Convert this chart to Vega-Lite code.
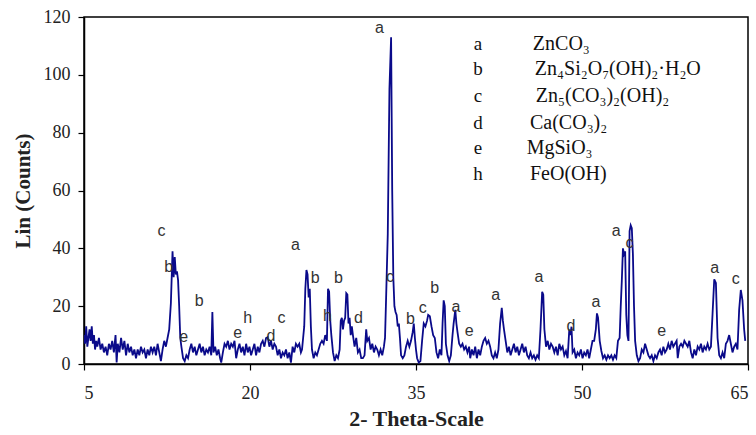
{
  "$schema": "https://vega.github.io/schema/vega-lite/v6.json",
  "autosize": "none",
  "width": 664,
  "height": 347,
  "padding": {"left": 84, "top": 17, "right": 8, "bottom": 71},
  "background": "white",
  "config": {
    "view": {"stroke": "#000", "strokeWidth": 1.5},
    "axis": {"grid": false, "domainColor": "#000", "domainWidth": 1.5, "tickColor": "#000", "tickWidth": 1.2, "tickSize": 6,
      "labelFont": "Liberation Serif", "labelFontSize": 18, "labelColor": "#222",
      "titleFont": "Liberation Serif", "titleFontSize": 21, "titleFontWeight": "bold", "titleColor": "#222"}
  },
  "datasets": {
    "spectrum": [
      {"x":5.0,"y":10},{"x":5.1,"y":7},{"x":5.2,"y":13},{"x":5.3,"y":6},{"x":5.4,"y":9},{"x":5.5,"y":12},{"x":5.6,"y":8},{"x":5.7,"y":13},{"x":5.8,"y":7},{"x":5.9,"y":10},
      {"x":6.0,"y":5},{"x":6.1,"y":8},{"x":6.2,"y":6},{"x":6.35,"y":9},{"x":6.5,"y":5},{"x":6.65,"y":7},{"x":6.8,"y":4},{"x":6.95,"y":6},{"x":7.1,"y":3},{"x":7.25,"y":7},
      {"x":7.4,"y":5},{"x":7.55,"y":8},{"x":7.7,"y":4},{"x":7.85,"y":10},{"x":7.95,"y":0.5},{"x":8.05,"y":7},{"x":8.2,"y":4},{"x":8.35,"y":9},{"x":8.5,"y":5},{"x":8.65,"y":8},
      {"x":8.8,"y":3},{"x":8.95,"y":7},{"x":9.1,"y":4},{"x":9.25,"y":6},{"x":9.4,"y":3},{"x":9.55,"y":5},{"x":9.7,"y":2},{"x":9.85,"y":5},{"x":10.0,"y":3},{"x":10.15,"y":6},
      {"x":10.3,"y":4},{"x":10.45,"y":5},{"x":10.6,"y":2},{"x":10.75,"y":5},{"x":10.9,"y":3},{"x":11.05,"y":6},{"x":11.2,"y":4},{"x":11.35,"y":6},{"x":11.5,"y":3},{"x":11.65,"y":7},
      {"x":11.8,"y":4},{"x":11.95,"y":1},{"x":12.1,"y":5},{"x":12.25,"y":8},{"x":12.4,"y":6},{"x":12.55,"y":9},{"x":12.7,"y":12},{"x":12.85,"y":21},{"x":13.0,"y":39},{"x":13.1,"y":30},
      {"x":13.2,"y":37},{"x":13.3,"y":31},{"x":13.4,"y":32},{"x":13.5,"y":29},{"x":13.6,"y":20},{"x":13.7,"y":9},{"x":13.8,"y":6},{"x":13.95,"y":2},{"x":14.1,"y":1},{"x":14.25,"y":3},
      {"x":14.4,"y":2},{"x":14.55,"y":5},{"x":14.7,"y":7},{"x":14.85,"y":4},{"x":15.0,"y":6},{"x":15.15,"y":3},{"x":15.3,"y":5},{"x":15.45,"y":7},{"x":15.6,"y":4},{"x":15.75,"y":6},
      {"x":15.9,"y":3},{"x":16.05,"y":5},{"x":16.2,"y":4},{"x":16.35,"y":6},{"x":16.5,"y":3},{"x":16.6,"y":18},{"x":16.7,"y":4},{"x":16.85,"y":6},{"x":17.0,"y":3},{"x":17.15,"y":5},
      {"x":17.3,"y":2},{"x":17.4,"y":0.5},{"x":17.55,"y":4},{"x":17.7,"y":7},{"x":17.85,"y":6},{"x":18.0,"y":8},{"x":18.15,"y":5},{"x":18.3,"y":7},{"x":18.45,"y":6},{"x":18.6,"y":8},
      {"x":18.75,"y":2},{"x":18.9,"y":5},{"x":19.05,"y":7},{"x":19.2,"y":4},{"x":19.35,"y":6},{"x":19.5,"y":3},{"x":19.65,"y":7},{"x":19.8,"y":4},{"x":19.95,"y":6},{"x":20.1,"y":3},
      {"x":20.25,"y":5},{"x":20.4,"y":7},{"x":20.55,"y":3},{"x":20.7,"y":6},{"x":20.85,"y":4},{"x":21.0,"y":7},{"x":21.15,"y":8},{"x":21.3,"y":6},{"x":21.45,"y":9},{"x":21.6,"y":9.3},
      {"x":21.75,"y":6},{"x":21.9,"y":8},{"x":22.05,"y":5},{"x":22.2,"y":7},{"x":22.35,"y":6},{"x":22.5,"y":3},{"x":22.65,"y":5},{"x":22.8,"y":2},{"x":22.95,"y":4},{"x":23.1,"y":3},
      {"x":23.25,"y":5},{"x":23.4,"y":2},{"x":23.55,"y":4},{"x":23.7,"y":0.5},{"x":23.85,"y":6},{"x":24.0,"y":4},{"x":24.15,"y":7},{"x":24.3,"y":6},{"x":24.45,"y":7},{"x":24.6,"y":4},
      {"x":24.7,"y":5},{"x":24.8,"y":9},{"x":24.9,"y":13},{"x":25.0,"y":26},{"x":25.1,"y":32.5},{"x":25.2,"y":31},{"x":25.3,"y":23},{"x":25.4,"y":26},{"x":25.5,"y":13},{"x":25.6,"y":5},
      {"x":25.75,"y":2},{"x":25.9,"y":4},{"x":26.05,"y":3},{"x":26.2,"y":5},{"x":26.35,"y":7},{"x":26.5,"y":8},{"x":26.65,"y":7},{"x":26.8,"y":10},{"x":26.95,"y":8},{"x":27.05,"y":26},
      {"x":27.15,"y":25},{"x":27.25,"y":15},{"x":27.35,"y":10},{"x":27.5,"y":4},{"x":27.65,"y":1},{"x":27.8,"y":3},{"x":27.95,"y":2},{"x":28.1,"y":5},{"x":28.2,"y":15},{"x":28.3,"y":16},
      {"x":28.4,"y":12},{"x":28.5,"y":15},{"x":28.6,"y":16},{"x":28.7,"y":24.5},{"x":28.8,"y":24},{"x":28.9,"y":14},{"x":29.0,"y":16},{"x":29.1,"y":10},{"x":29.2,"y":13},{"x":29.3,"y":10},
      {"x":29.45,"y":6},{"x":29.6,"y":9},{"x":29.75,"y":4},{"x":29.9,"y":5},{"x":30.05,"y":2},{"x":30.2,"y":2},{"x":30.35,"y":3},{"x":30.5,"y":12},{"x":30.6,"y":8},{"x":30.75,"y":9},
      {"x":30.9,"y":5},{"x":31.05,"y":7},{"x":31.2,"y":4},{"x":31.35,"y":6},{"x":31.5,"y":5},{"x":31.65,"y":3},{"x":31.8,"y":5},{"x":31.95,"y":3},{"x":32.1,"y":6},{"x":32.2,"y":9},
      {"x":32.3,"y":23},{"x":32.45,"y":45},{"x":32.6,"y":95},{"x":32.75,"y":113},{"x":32.85,"y":60},{"x":32.95,"y":30},{"x":33.05,"y":20},{"x":33.15,"y":18},{"x":33.25,"y":17},{"x":33.35,"y":13},
      {"x":33.45,"y":14},{"x":33.55,"y":9},{"x":33.65,"y":3},{"x":33.8,"y":2},{"x":33.95,"y":3},{"x":34.1,"y":6},{"x":34.25,"y":8},{"x":34.4,"y":6},{"x":34.55,"y":8},{"x":34.7,"y":11},
      {"x":34.8,"y":14},{"x":34.9,"y":9},{"x":35.0,"y":5},{"x":35.1,"y":2},{"x":35.25,"y":0.5},{"x":35.4,"y":1},{"x":35.55,"y":8},{"x":35.7,"y":14},{"x":35.85,"y":13},{"x":36.0,"y":15},
      {"x":36.1,"y":17},{"x":36.25,"y":16.5},{"x":36.4,"y":13},{"x":36.55,"y":10},{"x":36.7,"y":9},{"x":36.85,"y":4},{"x":37.0,"y":2},{"x":37.15,"y":5},{"x":37.3,"y":3},{"x":37.4,"y":14},
      {"x":37.5,"y":22},{"x":37.6,"y":20},{"x":37.7,"y":7},{"x":37.85,"y":3},{"x":38.0,"y":1},{"x":38.15,"y":3},{"x":38.3,"y":10},{"x":38.4,"y":14},{"x":38.55,"y":18.7},{"x":38.65,"y":14},
      {"x":38.75,"y":11},{"x":38.9,"y":7},{"x":39.05,"y":6},{"x":39.2,"y":7},{"x":39.35,"y":5},{"x":39.5,"y":6},{"x":39.65,"y":4},{"x":39.8,"y":6},{"x":39.9,"y":2},{"x":40.05,"y":5},
      {"x":40.2,"y":3},{"x":40.35,"y":6},{"x":40.5,"y":2},{"x":40.65,"y":5},{"x":40.8,"y":3},{"x":40.95,"y":6},{"x":41.1,"y":8},{"x":41.25,"y":9},{"x":41.4,"y":7},{"x":41.55,"y":8},
      {"x":41.7,"y":6},{"x":41.85,"y":3},{"x":42.0,"y":2},{"x":42.15,"y":4},{"x":42.3,"y":2},{"x":42.45,"y":5},{"x":42.6,"y":14},{"x":42.75,"y":19.4},{"x":42.85,"y":15},{"x":42.95,"y":12},
      {"x":43.1,"y":8},{"x":43.25,"y":4},{"x":43.4,"y":6},{"x":43.55,"y":3},{"x":43.7,"y":5},{"x":43.85,"y":7},{"x":44.0,"y":4},{"x":44.15,"y":6},{"x":44.3,"y":3},{"x":44.45,"y":5},
      {"x":44.6,"y":7},{"x":44.75,"y":4},{"x":44.9,"y":6},{"x":45.05,"y":3},{"x":45.2,"y":2},{"x":45.35,"y":4},{"x":45.5,"y":2},{"x":45.65,"y":3},{"x":45.8,"y":1.5},{"x":45.95,"y":3},
      {"x":46.1,"y":2},{"x":46.25,"y":12},{"x":46.4,"y":25},{"x":46.5,"y":24},{"x":46.6,"y":12},{"x":46.75,"y":6},{"x":46.9,"y":8},{"x":47.05,"y":5},{"x":47.2,"y":7},{"x":47.35,"y":6},
      {"x":47.5,"y":4},{"x":47.65,"y":6},{"x":47.8,"y":3},{"x":47.95,"y":7},{"x":48.1,"y":5},{"x":48.25,"y":6},{"x":48.4,"y":3},{"x":48.55,"y":4.5},{"x":48.7,"y":2},{"x":48.85,"y":11.8},
      {"x":48.95,"y":10},{"x":49.05,"y":12.9},{"x":49.15,"y":4},{"x":49.3,"y":5},{"x":49.45,"y":2},{"x":49.6,"y":4},{"x":49.75,"y":3},{"x":49.9,"y":5},{"x":50.05,"y":2},{"x":50.2,"y":4},
      {"x":50.35,"y":3},{"x":50.5,"y":5},{"x":50.65,"y":2},{"x":50.8,"y":5},{"x":50.95,"y":8},{"x":51.1,"y":8},{"x":51.25,"y":12},{"x":51.35,"y":17.5},{"x":51.45,"y":16},{"x":51.6,"y":8},
      {"x":51.75,"y":4.5},{"x":51.9,"y":2},{"x":52.05,"y":3},{"x":52.2,"y":1.5},{"x":52.35,"y":3},{"x":52.5,"y":2},{"x":52.65,"y":3},{"x":52.8,"y":1.5},{"x":52.95,"y":3},{"x":53.1,"y":2},
      {"x":53.25,"y":8},{"x":53.4,"y":9},{"x":53.5,"y":20},{"x":53.6,"y":29},{"x":53.7,"y":40},{"x":53.8,"y":38},{"x":53.9,"y":39},{"x":54.0,"y":17},{"x":54.1,"y":10},{"x":54.2,"y":8},
      {"x":54.3,"y":46},{"x":54.4,"y":48},{"x":54.5,"y":47},{"x":54.6,"y":38},{"x":54.7,"y":20},{"x":54.8,"y":8},{"x":54.95,"y":3},{"x":55.1,"y":1},{"x":55.25,"y":2},{"x":55.4,"y":5},
      {"x":55.55,"y":4},{"x":55.7,"y":7},{"x":55.85,"y":5},{"x":56.0,"y":3},{"x":56.15,"y":2},{"x":56.3,"y":3},{"x":56.45,"y":1},{"x":56.6,"y":3},{"x":56.75,"y":2},{"x":56.9,"y":4},
      {"x":57.05,"y":5},{"x":57.2,"y":3},{"x":57.35,"y":6},{"x":57.5,"y":4},{"x":57.65,"y":5},{"x":57.8,"y":7},{"x":57.95,"y":5},{"x":58.1,"y":8},{"x":58.25,"y":6},{"x":58.4,"y":7},
      {"x":58.55,"y":8},{"x":58.65,"y":2},{"x":58.8,"y":6},{"x":58.95,"y":7},{"x":59.1,"y":6},{"x":59.25,"y":8},{"x":59.4,"y":7},{"x":59.55,"y":6},{"x":59.7,"y":8},{"x":59.85,"y":4},
      {"x":60.0,"y":2},{"x":60.15,"y":5},{"x":60.3,"y":3},{"x":60.45,"y":6},{"x":60.6,"y":5},{"x":60.75,"y":7},{"x":60.9,"y":4},{"x":61.05,"y":6},{"x":61.2,"y":5},{"x":61.35,"y":7},
      {"x":61.5,"y":5},{"x":61.65,"y":6},{"x":61.8,"y":17.6},{"x":61.95,"y":29.3},{"x":62.1,"y":28},{"x":62.25,"y":9},{"x":62.4,"y":3},{"x":62.55,"y":2},{"x":62.7,"y":4},{"x":62.85,"y":2},
      {"x":63.0,"y":7},{"x":63.15,"y":8},{"x":63.3,"y":10},{"x":63.45,"y":7},{"x":63.6,"y":4},{"x":63.75,"y":6},{"x":63.9,"y":7},{"x":64.05,"y":5},{"x":64.2,"y":18.7},{"x":64.35,"y":25.6},
      {"x":64.5,"y":22},{"x":64.65,"y":12},{"x":64.75,"y":8}
    ],
    "peaks": [
      {"x":12.0,"y":46.1,"t":"c"},{"x":12.65,"y":33.7,"t":"b"},{"x":14.0,"y":9.4,"t":"e"},{"x":15.4,"y":21.9,"t":"b"},
      {"x":18.9,"y":10.6,"t":"e"},{"x":19.8,"y":15.8,"t":"h"},{"x":21.9,"y":9.7,"t":"d"},{"x":22.85,"y":16.0,"t":"c"},
      {"x":24.1,"y":41.2,"t":"a"},{"x":25.9,"y":29.6,"t":"b"},{"x":27.0,"y":16.6,"t":"h"},{"x":28.0,"y":29.6,"t":"b"},
      {"x":29.8,"y":15.8,"t":"d"},{"x":31.7,"y":116.1,"t":"a"},{"x":32.64,"y":30.2,"t":"c"},{"x":34.5,"y":15.5,"t":"b"},
      {"x":35.6,"y":19.3,"t":"c"},{"x":36.7,"y":26.4,"t":"b"},{"x":38.6,"y":19.6,"t":"a"},{"x":39.8,"y":11.4,"t":"e"},
      {"x":42.2,"y":23.9,"t":"a"},{"x":46.1,"y":30.0,"t":"a"},{"x":49.0,"y":13.1,"t":"d"},{"x":51.25,"y":21.6,"t":"a"},
      {"x":53.1,"y":46.1,"t":"a"},{"x":54.3,"y":41.9,"t":"c"},{"x":57.2,"y":11.4,"t":"e"},{"x":62.0,"y":33.3,"t":"a"},
      {"x":63.9,"y":29.3,"t":"c"}
    ],
    "legend": [
      {"x":40.6,"fx":45.56,"y":110.7,"t":"a","f":"ZnCO₃"},
      {"x":40.6,"fx":45.74,"y":102.1,"t":"b","f":"Zn₄Si₂O₇(OH)₂·H₂O"},
      {"x":40.6,"fx":45.83,"y":92.7,"t":"c","f":"Zn₅(CO₃)₂(OH)₂"},
      {"x":40.6,"fx":45.3,"y":83.4,"t":"d","f":"Ca(CO₃)₂"},
      {"x":40.6,"fx":45.0,"y":74.7,"t":"e","f":"MgSiO₃"},
      {"x":40.6,"fx":45.3,"y":65.7,"t":"h","f":"FeO(OH)"}
    ]
  },
  "layer": [
    {
      "data": {"name": "spectrum"},
      "mark": {"type": "line", "color": "#0a0a8a", "strokeWidth": 1.8, "clip": true},
      "encoding": {
        "x": {"field": "x", "type": "quantitative", "scale": {"domain": [5, 65], "nice": false, "zero": false},
          "axis": {"values": [5, 20, 35, 50, 65], "title": "2- Theta-Scale", "labelPadding": 14, "titlePadding": 6, "titleFontSize": 22}},
        "y": {"field": "y", "type": "quantitative", "scale": {"domain": [0, 120], "nice": false},
          "axis": {"values": [0, 20, 40, 60, 80, 100, 120], "title": "Lin (Counts)", "labelPadding": 8, "titlePadding": 10}}
      }
    },
    {
      "data": {"name": "peaks"},
      "mark": {"type": "text", "font": "Liberation Sans", "fontSize": 16, "color": "#333", "align": "center", "baseline": "middle"},
      "encoding": {
        "x": {"field": "x", "type": "quantitative"},
        "y": {"field": "y", "type": "quantitative"},
        "text": {"field": "t"}
      }
    },
    {
      "data": {"name": "legend"},
      "mark": {"type": "text", "font": "Liberation Serif", "fontSize": 19, "color": "#111", "align": "center", "baseline": "middle"},
      "encoding": {
        "x": {"field": "x", "type": "quantitative"},
        "y": {"field": "y", "type": "quantitative"},
        "text": {"field": "t"}
      }
    },
    {
      "data": {"name": "legend"},
      "mark": {"type": "text", "font": "Liberation Serif", "fontSize": 20, "color": "#111", "align": "left", "baseline": "middle"},
      "encoding": {
        "x": {"field": "fx", "type": "quantitative"},
        "y": {"field": "y", "type": "quantitative"},
        "text": {"field": "f"}
      }
    }
  ]
}
